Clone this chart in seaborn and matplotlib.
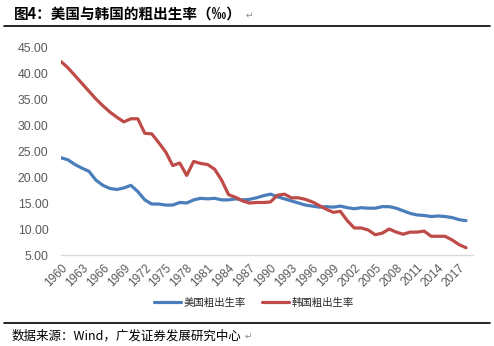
import matplotlib
matplotlib.use("Agg")
import matplotlib.pyplot as plt
import seaborn as sns
import pandas as pd
from matplotlib.lines import Line2D

years = list(range(1960, 2019))
us_rate = [23.7, 23.3, 22.4, 21.7, 21.1, 19.4, 18.4, 17.8, 17.6, 17.9,
           18.4, 17.2, 15.6, 14.8, 14.8, 14.6, 14.6, 15.1, 15.0, 15.6,
           15.9, 15.8, 15.9, 15.6, 15.6, 15.8, 15.6, 15.7, 16.0, 16.4,
           16.7, 16.2, 15.8, 15.4, 15.0, 14.6, 14.4, 14.2, 14.3, 14.2,
           14.4, 14.1, 13.9, 14.1, 14.0, 14.0, 14.3, 14.3, 14.0, 13.5,
           13.0, 12.7, 12.6, 12.4, 12.5, 12.4, 12.2, 11.8, 11.6]
kr_rate = [42.2, 41.0, 39.5, 38.0, 36.5, 35.0, 33.7, 32.5, 31.5, 30.6,
           31.2, 31.2, 28.4, 28.3, 26.6, 24.8, 22.2, 22.7, 20.3, 23.0,
           22.6, 22.4, 21.5, 19.4, 16.6, 16.1, 15.4, 15.0, 15.1, 15.1,
           15.2, 16.5, 16.7, 16.0, 16.0, 15.7, 15.2, 14.5, 13.8, 13.2,
           13.4, 11.6, 10.2, 10.2, 9.8, 8.9, 9.2, 10.0, 9.4, 9.0,
           9.4, 9.4, 9.6, 8.6, 8.6, 8.6, 7.9, 7.0, 6.4]
series_names = ["美国粗出生率", "韩国粗出生率"]
yticks = [5, 10, 15, 20, 25, 30, 35, 40, 45]
xticks = list(range(1960, 2018, 3))
title = "图4：美国与韩国的粗出生率（‰）"
source = "数据来源：Wind，广发证券发展研究中心"

sns.set_style("white")
plt.rcParams['font.family'] = ['Noto Sans CJK SC', 'DejaVu Sans']

df = pd.DataFrame({
    "year": years * 2,
    "rate": us_rate + kr_rate,
    "series": [series_names[0]] * len(years) + [series_names[1]] * len(years),
})

colors = ["#4A7EBB", "#BE4B48"]
fig = plt.figure(figsize=(4.94, 3.46), dpi=100)
ax = fig.add_axes([61/494, 91/346, 412/494, 208/346])
sns.lineplot(data=df, x="year", y="rate", hue="series", palette=colors,
             linewidth=2.3, ax=ax, legend=False)

ax.set_xlim(1960, 2019)
ax.set_ylim(5, 45)
ax.set_yticks(yticks)
ax.set_yticklabels([f"{v:.2f}" for v in yticks], fontsize=8.8, color="#595959",
                   family=['Liberation Sans', 'DejaVu Sans'])
ax.set_xticks(xticks)
ax.set_xticklabels([str(v) for v in xticks], fontsize=8.5, color="#595959",
                   rotation=45, ha="right", rotation_mode="anchor",
                   family=['Liberation Sans', 'DejaVu Sans'])
ax.tick_params(axis="y", length=0, pad=9)
ax.tick_params(axis="x", length=0, pad=5)
ax.set_xlabel("")
ax.set_ylabel("")
for s in ["top", "right", "left"]:
    ax.spines[s].set_visible(False)
ax.spines["bottom"].set_color("#D9D9D9")
ax.spines["bottom"].set_linewidth(1.0)

handles = [Line2D([0], [0], color=c, lw=2.3) for c in colors]
fig.legend(handles, series_names, loc="center", bbox_to_anchor=(254/494, 1 - 303/346),
           ncol=2, frameon=False, fontsize=7.5, handlelength=2.6, handletextpad=0.2,
           columnspacing=1.6)

# title and rules
t = fig.text(14/494, 1 - 14/346, title, fontsize=10.5, fontweight="bold",
             color="#000000", va="center", ha="left")
ax.annotate("↵", xy=(1, 0.45), xycoords=t, xytext=(3, 0), textcoords="offset points",
            fontsize=6.5, color="#888888", va="center", ha="left",
            family=['DejaVu Sans'], annotation_clip=False)
fig.add_artist(Line2D([4/494, 490/494], [1 - 26/346, 1 - 26/346], color="black", lw=1.2))
fig.add_artist(Line2D([4/494, 490/494], [1 - 323/346, 1 - 323/346], color="black", lw=1.2))
s = fig.text(12/494, 1 - 336/346, source, fontsize=9, color="#000000",
             va="center", ha="left")
ax.annotate("↵", xy=(1, 0.45), xycoords=s, xytext=(2, 0), textcoords="offset points",
            fontsize=6.5, color="#888888", va="center", ha="left",
            family=['DejaVu Sans'], annotation_clip=False)

fig.savefig("out.png", dpi=100)
